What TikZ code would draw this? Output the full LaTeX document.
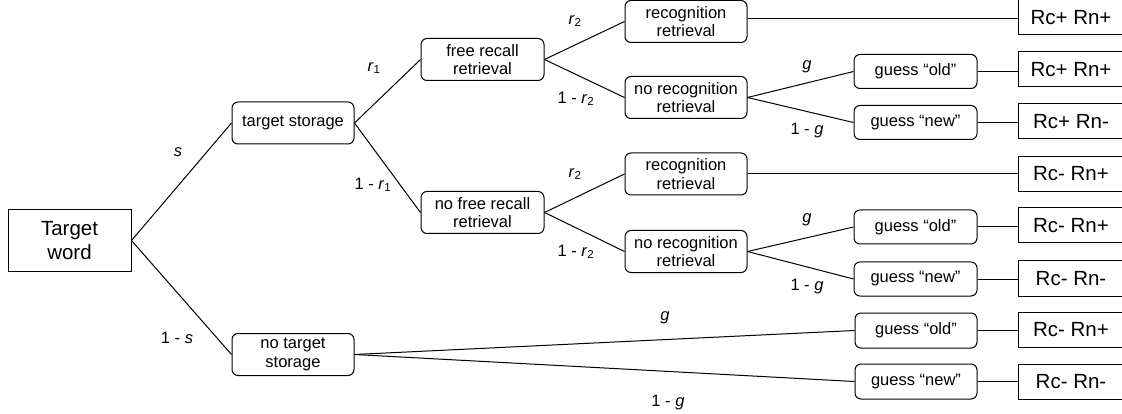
\documentclass[tikz,border=0pt]{standalone}
\usepackage{fontspec}
\setmainfont{Liberation Sans}
\begin{document}
\begin{tikzpicture}[x=1pt,y=-1pt,
  line width=1pt,
  every node/.style={inner sep=0pt},
  sq/.style={draw, align=center, font=\fontsize{20.5}{24.5}\selectfont},
  rbox/.style={draw, rounded corners=6pt, align=center, minimum width=122pt, minimum height=42pt, font=\fontsize{16.5}{18.5}\selectfont},
  gbox/.style={rbox, minimum width=123pt, minimum height=34pt},
  rc/.style={sq, minimum width=106pt, minimum height=35pt, font=\fontsize{20.5}{24}\selectfont},
  lbl/.style={font=\fontsize{16.5}{18}\selectfont}
]
\useasboundingbox (0,0) rectangle (1122,414);
% nodes
\node[sq, minimum width=123pt, minimum height=61pt] (tw) at (69.5,240.5) {Target\\word};
\node[rbox] (ts) at (293,123) {target storage};
\node[rbox] (nts) at (293,354.5) {no target\\storage};
\node[rbox, minimum width=123pt] (fr) at (482.5,59.5) {free recall\\retrieval};
\node[rbox, minimum width=123pt] (nfr) at (482.5,212.5) {no free recall\\retrieval};
\node[rbox] (rr1) at (686,21.5) {recognition\\retrieval};
\node[rbox] (nr1) at (686,97.5) {no recognition\\retrieval};
\node[rbox] (rr2) at (686,174) {recognition\\retrieval};
\node[rbox] (nr2) at (686,251.5) {no recognition\\retrieval};
\node[gbox] (go1) at (915.5,71.5) {guess “old”};
\node[gbox] (gn1) at (915.5,122.5) {guess “new”};
\node[gbox] (go2) at (915.5,227) {guess “old”};
\node[gbox] (gn2) at (915.5,279) {guess “new”};
\node[gbox, minimum width=122pt, minimum height=35pt] (go3) at (916,330.5) {guess “old”};
\node[gbox, minimum width=122pt, minimum height=35pt] (gn3) at (916,381.5) {guess “new”};
\node[rc] (rc1) at (1071,17.5) {Rc+ Rn+};
\node[rc] (rc2) at (1071,69.5) {Rc+ Rn+};
\node[rc] (rc3) at (1071,121.5) {Rc+ Rn-};
\node[rc] (rc4) at (1071,174) {Rc- Rn+};
\node[rc] (rc5) at (1071,225.5) {Rc- Rn+};
\node[rc] (rc6) at (1071,278.5) {Rc- Rn-};
\node[rc] (rc7) at (1071,329.5) {Rc- Rn+};
\node[rc] (rc8) at (1071,381.5) {Rc- Rn-};
% connectors
\draw (tw.east) -- (ts.west);
\draw (tw.east) -- (nts.west);
\draw (ts.east) -- (fr.west);
\draw (ts.east) -- (nfr.west);
\draw (fr.east) -- (rr1.west);
\draw (fr.east) -- (nr1.west);
\draw (nfr.east) -- (rr2.west);
\draw (nfr.east) -- (nr2.west);
\draw (nr1.east) -- (go1.west);
\draw (nr1.east) -- (gn1.west);
\draw (nr2.east) -- (go2.west);
\draw (nr2.east) -- (gn2.west);
\draw (nts.east) -- (go3.west);
\draw (nts.east) -- (gn3.west);
\draw (rr1.east |- 0,19) -- (rc1.west |- 0,19);
\draw (go1.east) -- (go1.east -| rc2.west);
\draw (gn1.east) -- (gn1.east -| rc3.west);
\draw (rr2.east) -- (rr2.east -| rc4.west);
\draw (go2.east) -- (go2.east -| rc5.west);
\draw (gn2.east) -- (gn2.east -| rc6.west);
\draw (go3.east) -- (go3.east -| rc7.west);
\draw (gn3.east) -- (gn3.east -| rc8.west);
% labels
\node[lbl] (ls) at (178,152) {\textit{s}};
\node[lbl] (l1s) at (177,338) {1 - \textit{s}};
\node[lbl] (lr1) at (374,68) {\textit{r}\textsubscript{1}};
\node[lbl] (l1r1) at (373,185) {1 - \textit{r}\textsubscript{1}};
\node[lbl] (lr2a) at (575,21) {\textit{r}\textsubscript{2}};
\node[lbl] (l1r2a) at (576,99) {1 - \textit{r}\textsubscript{2}};
\node[lbl] (lr2b) at (575,174) {\textit{r}\textsubscript{2}};
\node[lbl] (l1r2b) at (576,252) {1 - \textit{r}\textsubscript{2}};
\node[lbl] (lga) at (807,67) {\textit{g}};
\node[lbl] (l1ga) at (807,131) {1 - \textit{g}};
\node[lbl] (lgb) at (807,220) {\textit{g}};
\node[lbl] (l1gb) at (807,287) {1 - \textit{g}};
\node[lbl] (lgc) at (665,318) {\textit{g}};
\node[lbl] (l1gc) at (668,403) {1 - \textit{g}};
\end{tikzpicture}
\end{document}
